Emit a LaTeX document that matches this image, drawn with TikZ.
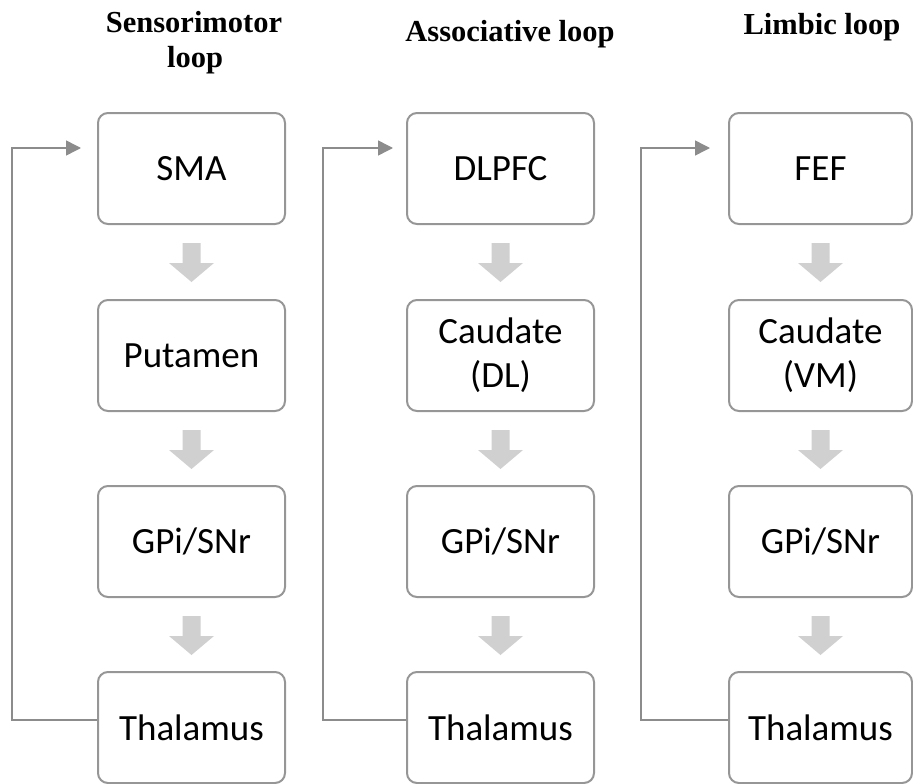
\documentclass[tikz,border=0pt]{standalone}
\usepackage{fontspec}
\setmainfont{Carlito}
\newfontfamily\headfont{Liberation Serif}
\usetikzlibrary{arrows.meta,calc}
\definecolor{boxline}{RGB}{150,150,150}
\definecolor{fbline}{RGB}{140,140,140}
\definecolor{blockgray}{RGB}{208,208,208}
\tikzset{
  region/.style={draw=boxline, line width=2pt, rounded corners=10pt, minimum width=187pt, minimum height=111pt, inner sep=0pt, align=center, font=\fontsize{37}{44}\selectfont},
  regionnarrow/.style={region, minimum width=183pt},
  header/.style={anchor=base, inner sep=0pt, font=\headfont\bfseries\fontsize{30.5}{34}\selectfont},
  feedback/.style={draw=fbline, line width=1.5pt, -{Triangle[length=15pt,width=15pt]}},
  blockarr/.style={fill=blockgray, draw=none}
}
\newcommand\downblock[1]{\fill[blockarr] ($(#1)+(-9,-18)$) -- ++(18,0) -- ++(0,-20) -- ++(13.5,0) -- ++(-22.5,-19) -- ++(-22.5,19) -- ++(13.5,0) -- cycle;}
\begin{document}
\begin{tikzpicture}[x=1pt,y=1pt]
\useasboundingbox (0,0) rectangle (913,-784);
\clip (0,0) rectangle (913,-784);
% headers
\node[header] (h1a) at (194,-33) {Sensorimotor};
\node[header] (h1b) at (195,-67) {loop};
\node[header] (h2) at (510,-42) {Associative loop};
\node[header] (h3) at (822,-35) {Limbic loop};
% column 1
\node[region] (a1) at (191.5,-168.5) {SMA};
\node[region] (a2) at (191.5,-355.5) {Putamen};
\node[region] (a3) at (191.5,-541.5) {GPi/SNr};
\node[region] (a4) at (191.5,-727.5) {Thalamus};
% column 2
\node[region] (b1) at (500.5,-168.5) {DLPFC};
\node[region] (b2) at (500.5,-355.5) {Caudate\\(DL)};
\node[region] (b3) at (500.5,-541.5) {GPi/SNr};
\node[region] (b4) at (500.5,-727.5) {Thalamus};
% column 3
\node[regionnarrow] (c1) at (820.5,-168.5) {FEF};
\node[regionnarrow] (c2) at (820.5,-355.5) {Caudate\\(VM)};
\node[regionnarrow] (c3) at (820.5,-541.5) {GPi/SNr};
\node[regionnarrow] (c4) at (820.5,-727.5) {Thalamus};
% block arrows
\downblock{a1.south}\downblock{a2.south}\downblock{a3.south}
\downblock{b1.south}\downblock{b2.south}\downblock{b3.south}
\downblock{c1.south}\downblock{c2.south}\downblock{c3.south}
% feedback corners
\coordinate (fa) at (12,-720);
\coordinate (fb) at (323,-720);
\coordinate (fc) at (641,-720);
\draw[feedback] ([yshift=7.5pt]a4.west) -- (fa) |- ([xshift=-16pt,yshift=20.5pt]a1.west);
\draw[feedback] ([yshift=7.5pt]b4.west) -- (fb) |- ([xshift=-13pt,yshift=20.5pt]b1.west);
\draw[feedback] ([yshift=7.5pt]c4.west) -- (fc) |- ([xshift=-18pt,yshift=20.5pt]c1.west);
\end{tikzpicture}
\end{document}
